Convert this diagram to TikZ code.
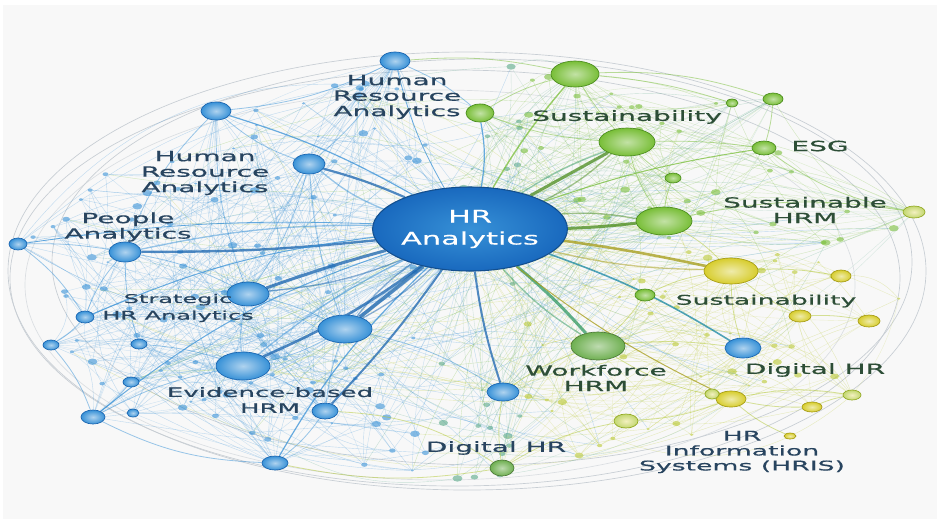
\documentclass[tikz,border=0pt]{standalone}
\usepackage{fontspec}
\usetikzlibrary{shapes.geometric}
\newfontfamily\lblfont[FakeStretch=2.0,FakeBold=0.6]{DejaVu Sans}
\newfontfamily\hubfont[FakeStretch=1.75,FakeBold=0.4]{DejaVu Sans}

\definecolor{bgpaper}{RGB}{248,248,248}
\definecolor{hrblue}{RGB}{55,145,215}
\definecolor{hrbluedk}{RGB}{25,100,175}
\definecolor{hubblue}{RGB}{25,105,190}
\definecolor{hrgreen}{RGB}{120,190,55}
\definecolor{hrgreendk}{RGB}{75,140,30}
\definecolor{wfgreen}{RGB}{110,175,80}
\definecolor{hryellow}{RGB}{215,205,45}
\definecolor{hryellowdk}{RGB}{165,155,20}
\definecolor{lbltxt}{RGB}{40,68,95}
\definecolor{lblgrn}{RGB}{45,78,55}
\definecolor{rimgray}{RGB}{200,206,212}

\pgfdeclarelayer{bg}
\pgfdeclarelayer{web}
\pgfsetlayers{bg,web,main}

\tikzset{
  wh/.style 2 args={minimum width=#1*0.75pt, minimum height=#2*0.75pt},
  ball/.style={ellipse, inner sep=0pt, line width=0.5pt},
  bnode/.style={ball, draw=hrbluedk, inner color=hrblue!40!white, outer color=hrblue},
  gnode/.style={ball, draw=hrgreendk, inner color=hrgreen!45!white, outer color=hrgreen},
  wnode/.style={ball, draw=wfgreen!70!black, inner color=wfgreen!45!white, outer color=wfgreen},
  ynode/.style={ball, draw=hryellowdk, inner color=hryellow!40!white, outer color=hryellow},
  lgnode/.style={ball, draw=hryellowdk!60!hrgreen, inner color=hryellow!30!white, outer color=hryellow!50!hrgreen!70!white},
  hubnode/.style={ball, draw=hubblue!75!black, line width=0.8pt, inner color=hrblue, outer color=hubblue,
    text=white, align=center, font=\hubfont\fontsize{13}{16.5}\selectfont},
  dot/.style={ellipse, inner sep=0pt, fill opacity=0.6},
  lbl/.style={text=lbltxt, align=center, inner sep=0pt, font=\lblfont\fontsize{10.5}{11.6}\selectfont},
  lblg/.style={lbl, text=lblgrn},
  webline/.style={line width=0.3pt, draw opacity=0.3},
  spoke/.style={draw opacity=0.75},
  spoke2/.style={line width=1pt, draw opacity=0.5},
  xlink/.style={line width=0.6pt, draw opacity=0.5},
  rim/.style={draw=rimgray, line width=0.5pt}
}

\begin{document}
\begin{tikzpicture}[x=0.75pt,y=0.75pt,yscale=-1,xscale=1]
\useasboundingbox (0,0) rectangle (937,519);

\begin{pgfonlayer}{bg}
\fill[white] (0,0) rectangle (937,519);
\fill[bgpaper] (3,5) rectangle (937,519);
\draw[rim] (467,271) ellipse [x radius=459, y radius=219];
\draw[rim] (455,278) ellipse [x radius=445, y radius=208];
\draw[rim] (482,262) ellipse [x radius=430, y radius=203];
\draw[rim, draw opacity=0.6] (440,285) ellipse [x radius=415, y radius=195];
\end{pgfonlayer}

% hub
\node[hubnode, wh={146}{84}] (hub) at (470,229) {HR\\Analytics};

% blue side
\node[bnode, wh={30}{18}] (b1) at (395,61) {};
\node[bnode, wh={30}{18}] (b2) at (216,111) {};
\node[bnode, wh={32}{20}] (b3) at (309,164) {};
\node[bnode, wh={32}{20}] (b4) at (125,252) {};
\node[bnode, wh={18}{12}] (b5) at (18,244) {};
\node[bnode, wh={42}{24}] (b6) at (248,294) {};
\node[bnode, wh={54}{28}] (b7) at (345,329) {};
\node[bnode, wh={54}{28}] (b8) at (243,366) {};
\node[bnode, wh={18}{12}] (b9) at (85,317) {};
\node[bnode, wh={16}{10}] (b10) at (51,345) {};
\node[bnode, wh={24}{14}] (b11) at (93,417) {};
\node[bnode, wh={16}{10}] (b12) at (131,382) {};
\node[bnode, wh={26}{14}] (b13) at (275,463) {};
\node[bnode, wh={26}{16}] (b14) at (325,411) {};
\node[bnode, wh={32}{18}] (b15) at (503,392) {};
\node[bnode, wh={36}{20}] (b16) at (743,348) {};
\node[bnode, wh={16}{10}] (b17) at (139,344) {};
\node[bnode, wh={12}{8}] (b18) at (133,413) {};

% green side
\node[gnode, wh={48}{26}] (g1) at (575,74) {};
\node[gnode, wh={28}{18}] (g2) at (480,113) {};
\node[gnode, wh={56}{28}] (g3) at (627,142) {};
\node[gnode, wh={24}{14}] (g4) at (764,148) {};
\node[gnode, wh={56}{28}] (g5) at (664,221) {};
\node[gnode, wh={20}{12}] (g6) at (773,99) {};
\node[gnode, wh={16}{10}] (g7) at (673,178) {};
\node[lgnode, wh={22}{12}] (g8) at (914,212) {};
\node[gnode, wh={12}{8}] (g9) at (732,103) {};
\node[wnode, wh={54}{28}] (g10) at (598,346) {};
\node[wnode, wh={24}{16}] (g11) at (502,468) {};
\node[gnode, wh={20}{12}] (g12) at (645,295) {};

% yellow side
\node[ynode, wh={54}{26}] (y1) at (731,271) {};
\node[ynode, wh={20}{12}] (y2) at (841,276) {};
\node[ynode, wh={22}{12}] (y3) at (800,316) {};
\node[ynode, wh={22}{12}] (y4) at (869,321) {};
\node[ynode, wh={30}{16}] (y5) at (731,399) {};
\node[ynode, wh={20}{10}] (y6) at (812,407) {};
\node[lgnode, wh={24}{14}] (y7) at (626,421) {};
\node[lgnode, wh={18}{10}] (y8) at (852,395) {};
\node[ynode, wh={12}{6}] (y9) at (790,436) {};
\node[lgnode, wh={14}{10}] (y10) at (712,394) {};

% the web of small terms
\pgfmathsetseed{42}
\pgfmathdeclarerandomlist{L}{{b1}{b2}{b3}{b4}{b5}{b6}{b7}{b8}{b9}{b10}{b11}{b12}{b13}{b14}{b17}{b18}}
\pgfmathdeclarerandomlist{T}{{g1}{g2}{g3}{g4}{g5}{g6}{g7}{g8}{g9}}
\pgfmathdeclarerandomlist{B}{{g10}{g11}{g12}{y1}{y2}{y3}{y4}{y5}{y6}{y7}{y8}{b16}{b15}}
\begin{pgfonlayer}{web}
\foreach \i in {1,...,230}{
  \pgfmathsetmacro{\ang}{360*rnd}
  \pgfmathsetmacro{\rr}{sqrt(rnd)}
  \pgfmathsetmacro{\px}{467+440*\rr*cos(\ang)}
  \pgfmathsetmacro{\py}{271+208*\rr*sin(\ang)}
  \pgfmathsetmacro{\dw}{3+7*rnd}
  \pgfmathsetmacro{\bd}{60*rnd-30}
  \ifdim\px pt<430pt \def\dc{hrblue}\def\lst{L}\else
    \ifdim\px pt<520pt \def\dc{hrblue!50!hrgreen}\def\lst{T}\else
      \ifdim\py pt<250pt \def\dc{hrgreen}\def\lst{T}\else \def\dc{hryellow!70!hrgreen}\def\lst{B}\fi\fi\fi
  \node[dot, fill=\dc, wh={\dw}{\dw*0.65}] (d\i) at (\px,\py) {};
  \pgfmathrandomitem{\m}{\lst}
  \draw[webline, draw=\dc] (d\i) to[bend left=\bd] (\m);
  \pgfmathrandomitem{\m}{\lst}
  \draw[webline, draw=\dc!70!white] (d\i) to[bend right=\bd/2] (\m);
  \ifnum\i>1
    \pgfmathtruncatemacro{\j}{1+floor(rnd*(\i-1))}
    \draw[webline, draw=\dc] (d\i) to[bend right=\bd] (d\j);
  \fi
  \ifodd\i
    \draw[webline, draw=\dc, draw opacity=0.25] (d\i) to[bend left=\bd/2] (hub);
  \fi
}

% links among the main terms
\foreach \a/\z/\b in {b1/b2/-10, b1/g2/-8, b2/b3/10, b2/b4/12, b2/b6/10, b3/b7/8, b3/b6/-10,
  b4/b6/-8, b4/b9/10, b4/b5/5, b6/b7/-6, b6/b8/10, b7/b8/-8, b7/b14/6, b8/b14/-10, b8/b11/8,
  b14/b13/-8, b7/b15/-10, b13/b11/-12, b5/b9/-10, b9/b10/-8, b10/b11/-10, b11/b12/6,
  b17/b8/-6, b3/b1/10, b4/b17/8}
  \draw[xlink, draw=hrblue] (\a) to[bend left=\b] (\z);
\foreach \a/\z/\b in {b1/g1/-8, g1/g3/6, g1/g6/-10, g2/g3/8, g3/g4/-4, g3/g5/10, g4/g6/6,
  g5/g8/-10, g3/g7/8, g5/g7/-8, g1/g9/-6, g4/g8/12, g2/g1/-8}
  \draw[xlink, draw=hrgreen] (\a) to[bend left=\b] (\z);
\foreach \a/\z/\b in {g5/y1/-8, y1/y3/6, y1/y2/-6, y3/y4/-6, y1/b16/8, g10/b16/-6, g10/y5/10,
  y5/y7/-8, y5/y6/6, y5/y8/-10, g10/b15/8, g11/y7/-10, b15/g11/8, b14/g11/-15, b13/g11/10,
  y5/y9/8, y6/y8/-6, g12/y1/-8, g10/g12/6, y10/y5/-6}
  \draw[xlink, draw=hryellow!60!hrgreen] (\a) to[bend left=\b] (\z);

% spokes out of the hub
\foreach \n/\w/\c/\b in {b1/0.8/hrblue/-8, b2/1.2/hrblue/6, b3/2.2/hrbluedk/4, b4/2.4/hrbluedk/-3,
  b5/0.8/hrblue/5, b6/3/hrbluedk/2, b7/3.6/hrbluedk/0, b8/2.6/hrbluedk/-6, b9/1/hrblue/8,
  b11/1/hrblue/10, b13/1.2/hrblue/8, b14/2/hrbluedk/-4, b15/2/hrbluedk/5, b16/1.6/teal!60!hrblue/-6,
  g1/1.4/hrgreen/-5, g2/1.2/hrblue/10, g3/3/hrgreendk/0, g5/3/hrgreendk/2, g4/1/hrgreen/-5,
  g10/3/teal!60!hrgreen/-4, y1/2.6/hryellowdk/-2, y5/1/hryellowdk/6}
  \draw[spoke, line width=\w*0.75pt, draw=\c] (hub) to[bend left=\b] (\n);
\foreach \n/\c/\b in {b7/hrbluedk/8, b7/hrbluedk/-7, b6/hrbluedk/-8, b3/hrblue/-9, b8/hrblue/6,
  b4/hrblue/6, g3/hrgreendk/8, g3/teal!60!hrgreen/-6, g5/hrgreendk/-7, g10/teal!60!hrgreen/8,
  y1/hryellowdk/6}
  \draw[spoke2, draw=\c] (hub) to[bend left=\b] (\n);
\end{pgfonlayer}

% labels
\node[lbl] (lhra1) at (397,97) {Human\\Resource\\Analytics};
\node[lbl] (lhra2) at (205,173) {Human\\Resource\\Analytics};
\node[lbl] (lpa) at (128,227) {People\\Analytics};
\node[lbl, font=\lblfont\fontsize{9}{12.5}\selectfont] (lshra) at (178,308) {Strategic\\HR Analytics};
\node[lbl, font=\lblfont\fontsize{9.75}{12}\selectfont] (lebhrm) at (270,400) {Evidence-based\\HRM};
\node[lbl] (ldhr1) at (496,448) {Digital HR};
\node[lblg] (lsus1) at (627,117) {Sustainability};
\node[lblg] (lesg) at (820,146) {ESG};
\node[lblg] (lshrm) at (805,210) {Sustainable\\HRM};
\node[lblg, font=\lblfont\fontsize{10}{11.6}\selectfont] (lsus2) at (766,301) {Sustainability};
\node[lblg] (lwhrm) at (596,378) {Workforce\\HRM};
\node[lblg] (ldhr2) at (815,370) {Digital HR};
\node[lbl, font=\lblfont\fontsize{10}{11.2}\selectfont] (lhris) at (742,452) {HR\\Information\\Systems (HRIS)};

\end{tikzpicture}
\end{document}
